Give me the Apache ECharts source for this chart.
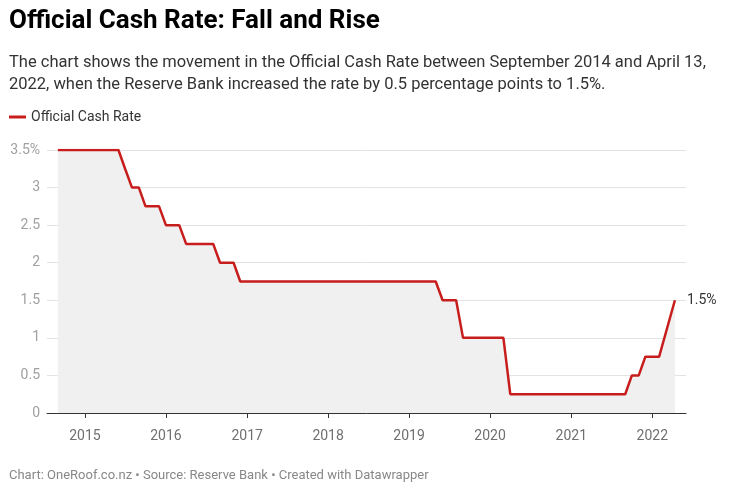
<!DOCTYPE html>
<html>
<head>
<meta charset="utf-8">
<script src="https://cdn.jsdelivr.net/npm/echarts@6/dist/echarts.min.js"></script>
<style>
html,body{margin:0;padding:0;background:#fff;}
#chart{width:740px;height:494px;}
</style>
</head>
<body>
<div id="chart"></div>
<script>
const dates = [
  '2014-09-01','2014-10-01','2014-11-01','2014-12-01',
  '2015-01-01','2015-02-01','2015-03-01','2015-04-01','2015-05-01','2015-06-01',
  '2015-07-01','2015-08-01','2015-09-01','2015-10-01','2015-11-01','2015-12-01',
  '2016-01-01','2016-02-01','2016-03-01','2016-04-01','2016-05-01','2016-06-01',
  '2016-07-01','2016-08-01','2016-09-01','2016-10-01','2016-11-01','2016-12-01',
  '2017-01-01','2017-02-01','2017-03-01','2017-04-01','2017-05-01','2017-06-01',
  '2017-07-01','2017-08-01','2017-09-01','2017-10-01','2017-11-01','2017-12-01',
  '2018-01-01','2018-02-01','2018-03-01','2018-04-01','2018-05-01','2018-06-01',
  '2018-07-01','2018-08-01','2018-09-01','2018-10-01','2018-11-01','2018-12-01',
  '2019-01-01','2019-02-01','2019-03-01','2019-04-01','2019-05-01','2019-06-01',
  '2019-07-01','2019-08-01','2019-09-01','2019-10-01','2019-11-01','2019-12-01',
  '2020-01-01','2020-02-01','2020-03-01','2020-04-01','2020-05-01','2020-06-01',
  '2020-07-01','2020-08-01','2020-09-01','2020-10-01','2020-11-01','2020-12-01',
  '2021-01-01','2021-02-01','2021-03-01','2021-04-01','2021-05-01','2021-06-01',
  '2021-07-01','2021-08-01','2021-09-01','2021-10-01','2021-11-01','2021-12-01',
  '2022-01-01','2022-02-01','2022-04-13'
];
const ocr = [
  3.5,3.5,3.5,3.5,
  3.5,3.5,3.5,3.5,3.5,3.5,
  3.25,3.0,3.0,2.75,2.75,2.75,
  2.5,2.5,2.5,2.25,2.25,2.25,
  2.25,2.25,2.0,2.0,2.0,1.75,
  1.75,1.75,1.75,1.75,1.75,1.75,
  1.75,1.75,1.75,1.75,1.75,1.75,
  1.75,1.75,1.75,1.75,1.75,1.75,
  1.75,1.75,1.75,1.75,1.75,1.75,
  1.75,1.75,1.75,1.75,1.75,1.5,
  1.5,1.5,1.0,1.0,1.0,1.0,
  1.0,1.0,1.0,0.25,0.25,0.25,
  0.25,0.25,0.25,0.25,0.25,0.25,
  0.25,0.25,0.25,0.25,0.25,0.25,
  0.25,0.25,0.25,0.5,0.5,0.75,
  0.75,0.75,1.5
];
const yearTicks = ['2015','2016','2017','2018','2019','2020','2021','2022'];
const seriesName = 'Official Cash Rate';

const chart = echarts.init(document.getElementById('chart'), null, {renderer: 'canvas'});
const DAY = 24 * 3600 * 1000;
chart.setOption({
  animation: false,
  backgroundColor: '#ffffff',
  textStyle: {fontFamily: 'Roboto'},
  title: [
    {
      text: 'Official Cash Rate: Fall and Rise',
      left: 9, top: 8, padding: 0,
      textStyle: {fontFamily: 'Roboto', fontSize: 26, fontWeight: 700, color: '#000'}
    },
    {
      text: 'The chart shows the movement in the Official Cash Rate between September 2014 and April 13,\n2022, when the Reserve Bank increased the rate by 0.5 percentage points to 1.5%.',
      left: 9, top: 52, padding: 0,
      textStyle: {fontFamily: 'Roboto', fontSize: 16.5, fontWeight: 400, color: '#333', lineHeight: 22}
    },
    {
      text: 'Chart: OneRoof.co.nz • Source: Reserve Bank • Created with Datawrapper',
      left: 9, top: 469, padding: 0,
      textStyle: {fontFamily: 'Roboto', fontSize: 13, fontWeight: 400, color: '#888'}
    }
  ],
  legend: {
    left: 9, top: 110, padding: 0,
    icon: 'rect', itemWidth: 17, itemHeight: 3,
    textStyle: {fontFamily: 'Roboto', fontSize: 14, color: '#333'},
    data: [seriesName]
  },
  grid: {left: 47, right: 54, top: 150, bottom: 81, containLabel: false},
  xAxis: {
    type: 'time',
    min: '2014-07-14',
    max: '2022-06-02',
    minInterval: 365 * DAY,
    maxInterval: 366 * DAY,
    splitNumber: 8,
    axisLine: {show: true, lineStyle: {color: '#333', width: 1}},
    axisTick: {show: true, length: 5, lineStyle: {color: '#333'}},
    splitLine: {show: false},
    axisLabel: {
      color: '#707070', fontSize: 14, margin: 16, fontFamily: 'Roboto',
      formatter: function (v) {
        const y = String(new Date(v).getFullYear());
        return yearTicks.indexOf(y) >= 0 ? y : '';
      }
    }
  },
  yAxis: {
    type: 'value',
    min: 0, max: 3.5, interval: 0.5,
    axisLine: {show: false},
    axisTick: {show: false},
    splitLine: {show: true, lineStyle: {color: '#e3e3e3', width: 1}},
    axisLabel: {
      color: '#a0a0a0', fontSize: 14, margin: 7, fontFamily: 'Roboto',
      formatter: function (v) { return v === 3.5 ? v + '%' : String(v); }
    }
  },
  series: [{
    name: seriesName,
    type: 'line',
    data: dates.map((d, i) => [d, ocr[i]]),
    showSymbol: false,
    symbol: 'none',
    lineStyle: {color: '#c71e1d', width: 2.5},
    itemStyle: {color: '#c71e1d'},
    areaStyle: {color: '#f0f0f0', opacity: 1},
    endLabel: {
      show: true,
      formatter: function (p) { return p.value[1] + '%'; },
      color: '#333', fontSize: 14, fontFamily: 'Roboto', distance: 12
    },
    z: 3
  }]
});
</script>
</body>
</html>
